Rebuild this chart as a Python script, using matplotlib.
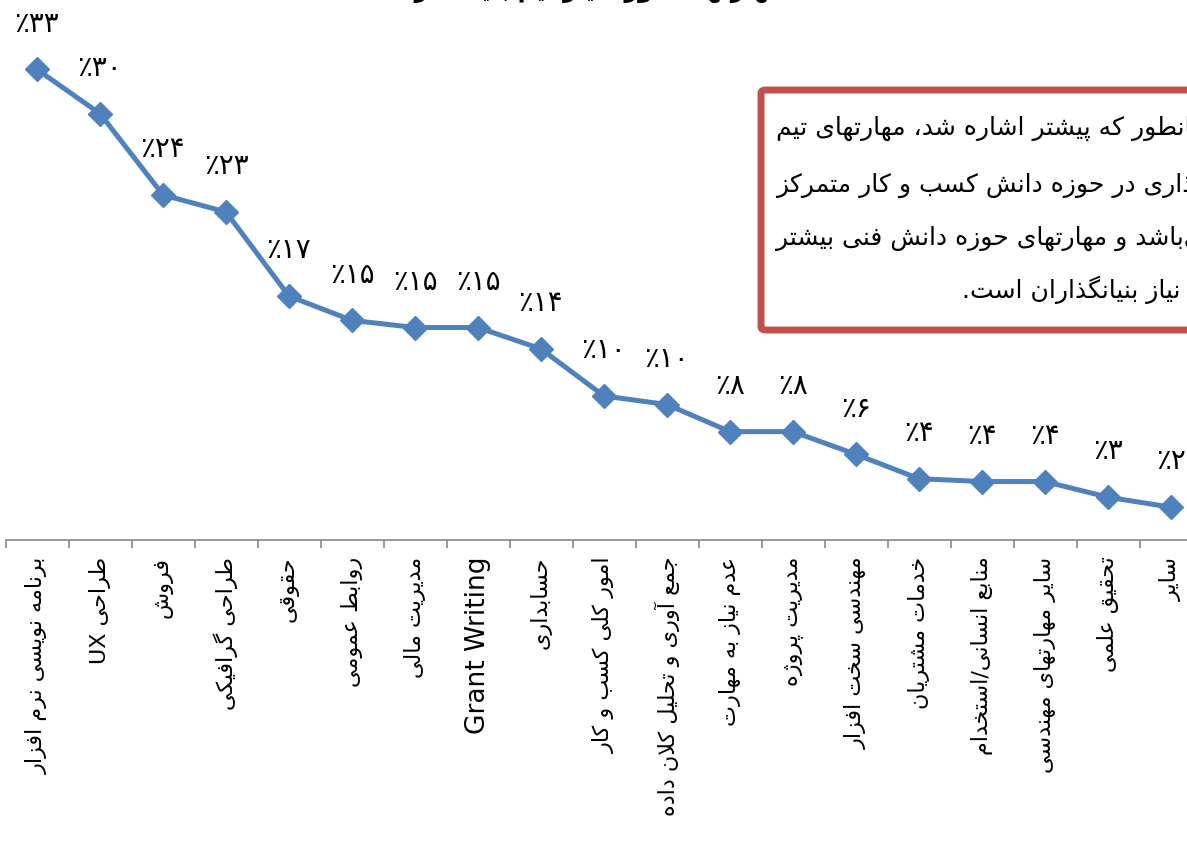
import matplotlib
matplotlib.use("Agg")
import matplotlib.pyplot as plt
from matplotlib.patches import FancyBboxPatch


CATEGORIES = [
    "برنامه نویسی نرم افزار",
    "طراحی UX",
    "فروش",
    "طراحی گرافیکی",
    "حقوقی",
    "روابط عمومی",
    "مدیریت مالی",
    "Grant Writing",
    "حسابداری",
    "امور کلی کسب و کار",
    "جمع آوری و تحلیل کلان داده",
    "عدم نیاز به مهارت",
    "مدیریت پروژه",
    "مهندسی سخت افزار",
    "خدمات مشتریان",
    "منابع انسانی/استخدام",
    "سایر مهارتهای مهندسی",
    "تحقیق علمی",
    "سایر",
]
VALUES = [33.0, 29.9, 24.2, 23.0, 17.1, 15.4, 14.9, 14.9, 13.4, 10.1,
          9.5, 7.6, 7.6, 6.0, 4.3, 4.1, 4.1, 3.0, 2.3]
LABELS = [33, 30, 24, 23, 17, 15, 15, 15, 14, 10, 10, 8, 8, 6, 4, 4, 4, 3, 2]

TITLE = "مهارتهای مورد نیاز تیم بنیانگذاری"
NOTE_LINES = [
    "همانطور که پیشتر اشاره شد، مهارتهای تیم",
    "بنیانگذاری در حوزه دانش کسب و کار متمرکز",
    "می\u200cباشد و مهارتهای حوزه دانش فنی بیشتر",
    "مورد نیاز بنیانگذاران است.",
]

LINE_COLOR = "#4F81BD"
BOX_COLOR = "#C0504D"
AXIS_COLOR = "#868686"
FONT = ["DejaVu Sans"]

# isolated, final, initial, medial presentation forms
FORMS = {
    "ا": (0xFE8D, 0xFE8E, None, None),
    "آ": (0xFE81, 0xFE82, None, None),
    "ب": (0xFE8F, 0xFE90, 0xFE91, 0xFE92),
    "پ": (0xFB56, 0xFB57, 0xFB58, 0xFB59),
    "ت": (0xFE95, 0xFE96, 0xFE97, 0xFE98),
    "ث": (0xFE99, 0xFE9A, 0xFE9B, 0xFE9C),
    "ج": (0xFE9D, 0xFE9E, 0xFE9F, 0xFEA0),
    "چ": (0xFB7A, 0xFB7B, 0xFB7C, 0xFB7D),
    "ح": (0xFEA1, 0xFEA2, 0xFEA3, 0xFEA4),
    "خ": (0xFEA5, 0xFEA6, 0xFEA7, 0xFEA8),
    "د": (0xFEA9, 0xFEAA, None, None),
    "ذ": (0xFEAB, 0xFEAC, None, None),
    "ر": (0xFEAD, 0xFEAE, None, None),
    "ز": (0xFEAF, 0xFEB0, None, None),
    "ژ": (0xFB8A, 0xFB8B, None, None),
    "س": (0xFEB1, 0xFEB2, 0xFEB3, 0xFEB4),
    "ش": (0xFEB5, 0xFEB6, 0xFEB7, 0xFEB8),
    "ص": (0xFEB9, 0xFEBA, 0xFEBB, 0xFEBC),
    "ض": (0xFEBD, 0xFEBE, 0xFEBF, 0xFEC0),
    "ط": (0xFEC1, 0xFEC2, 0xFEC3, 0xFEC4),
    "ظ": (0xFEC5, 0xFEC6, 0xFEC7, 0xFEC8),
    "ع": (0xFEC9, 0xFECA, 0xFECB, 0xFECC),
    "غ": (0xFECD, 0xFECE, 0xFECF, 0xFED0),
    "ف": (0xFED1, 0xFED2, 0xFED3, 0xFED4),
    "ق": (0xFED5, 0xFED6, 0xFED7, 0xFED8),
    "ک": (0xFB8E, 0xFB8F, 0xFB90, 0xFB91),
    "گ": (0xFB92, 0xFB93, 0xFB94, 0xFB95),
    "ل": (0xFEDD, 0xFEDE, 0xFEDF, 0xFEE0),
    "م": (0xFEE1, 0xFEE2, 0xFEE3, 0xFEE4),
    "ن": (0xFEE5, 0xFEE6, 0xFEE7, 0xFEE8),
    "ه": (0xFEE9, 0xFEEA, 0xFEEB, 0xFEEC),
    "و": (0xFEED, 0xFEEE, None, None),
    "ی": (0xFBFC, 0xFBFD, 0xFBFE, 0xFBFF),
}
LAM_ALEF = {"ا": (0xFEFB, 0xFEFC), "آ": (0xFEF5, 0xFEF6)}
FA_DIGITS = str.maketrans("0123456789", "۰۱۲۳۴۵۶۷۸۹")


def shape_word(s: str) -> str:
    res = []
    i = 0
    n = len(s)
    while i < n:
        c = s[i]
        if c not in FORMS:
            if c != "\u200c":
                res.append(c)
            i += 1
            continue
        prev = s[i - 1] if i > 0 else ""
        link_prev = prev in FORMS and FORMS[prev][2] is not None
        if c == "ل" and i + 1 < n and s[i + 1] in LAM_ALEF:
            iso, fin = LAM_ALEF[s[i + 1]]
            res.append(chr(fin if link_prev else iso))
            i += 2
            continue
        nxt = s[i + 1] if i + 1 < n else ""
        iso, fin, ini, med = FORMS[c]
        link_next = ini is not None and nxt in FORMS
        if link_prev and link_next:
            g = med
        elif link_prev:
            g = fin
        elif link_next:
            g = ini
        else:
            g = iso
        res.append(chr(g))
        i += 1
    return "".join(res)


def rtl(text: str) -> str:
    # crude visual reordering: good enough for these short labels
    if not any(ch in FORMS for ch in text):
        return text
    words = []
    for w in text.split(" "):
        if any(ch.isascii() and ch.isalpha() for ch in w):
            words.append(w)
        else:
            words.append(shape_word(w)[::-1])
    return " ".join(reversed(words))


def pct_label(v: int) -> str:
    return "٪" + str(v).translate(FA_DIGITS)


def main() -> None:
    W, H = 1187, 852
    fig = plt.figure(figsize=(W / 100, H / 100), dpi=100)

    unit = 63.0
    x0 = 37.0 - 0.5 * unit
    y_zero = 540.0
    px_per_val = 14.26
    ymax = 36
    ax = fig.add_axes([x0 / W, (H - y_zero) / H,
                       19 * unit / W, ymax * px_per_val / H])

    xs = list(range(len(CATEGORIES)))
    ax.plot(xs, VALUES, color=LINE_COLOR, linewidth=3.6, marker="D",
            markersize=12, markerfacecolor=LINE_COLOR,
            markeredgecolor=LINE_COLOR, solid_joinstyle="round", clip_on=False)

    for x, v, lab in zip(xs, VALUES, LABELS):
        ax.annotate(pct_label(lab), (x, v), xytext=(0, 33),
                    textcoords="offset points", ha="center", va="center",
                    fontsize=20, family=FONT, color="black")

    ax.set_xlim(-0.5, len(CATEGORIES) - 0.5)
    ax.set_ylim(0, ymax)
    for side in ["top", "right", "left"]:
        ax.spines[side].set_visible(False)
    ax.spines["bottom"].set_color(AXIS_COLOR)
    ax.spines["bottom"].set_linewidth(1.2)
    ax.set_yticks([])

    ax.set_xticks(xs)
    ax.set_xticklabels([rtl(c) for c in CATEGORIES], rotation=90,
                       fontsize=16, family=FONT)
    for lab, name in zip(ax.get_xticklabels(), CATEGORIES):
        if name.isascii():
            lab.set_fontsize(19)
    ax.tick_params(axis="x", which="major", length=0, pad=12)
    ax.set_xticks([x - 0.5 for x in range(len(CATEGORIES) + 1)], minor=True)
    ax.tick_params(axis="x", which="minor", length=6, width=1.2,
                   color=AXIS_COLOR)

    # title is mostly cropped off the top in the source image
    fig.text(588 / W, 1.013, rtl(TITLE), ha="center", va="center",
             fontsize=17, fontweight="bold", family=FONT)

    # note box running off the right edge; lines start at their visible left end
    box = FancyBboxPatch((761 / W, (H - 330) / H), 460 / W, 240 / H,
                         boxstyle="round,pad=0,rounding_size=0.004",
                         transform=fig.transFigure, facecolor="white",
                         edgecolor=BOX_COLOR, linewidth=5, clip_on=False)
    fig.patches.append(box)
    line_x = [776, 776, 776, 962]
    line_y = [128, 184, 238, 290]
    for txt, lx, ly in zip(NOTE_LINES, line_x, line_y):
        fig.text(lx / W, (H - ly) / H, rtl(txt), ha="left", va="center",
                 fontsize=18, family=FONT)

    fig.savefig("out.png", dpi=100)
    plt.close(fig)


if __name__ == "__main__":
    main()
